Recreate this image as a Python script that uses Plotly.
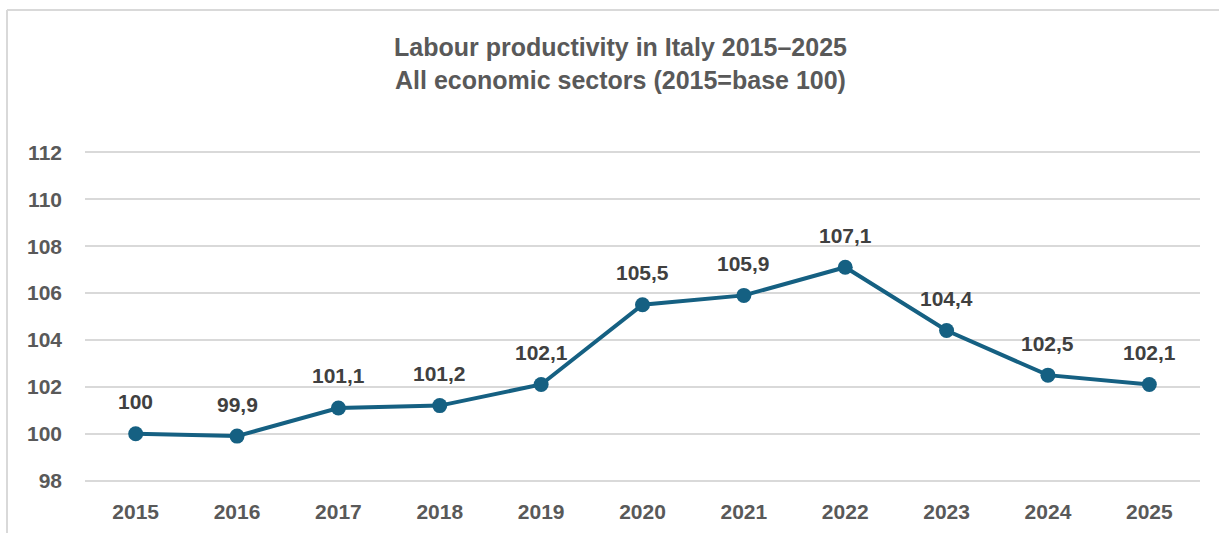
import plotly.graph_objects as go

years = ["2015", "2016", "2017", "2018", "2019", "2020", "2021", "2022", "2023", "2024", "2025"]
values = [100, 99.9, 101.1, 101.2, 102.1, 105.5, 105.9, 107.1, 104.4, 102.5, 102.1]
labels = ["100", "99,9", "101,1", "101,2", "102,1", "105,5", "105,9", "107,1", "104,4", "102,5", "102,1"]
y_ticks = [98, 100, 102, 104, 106, 108, 110, 112]
title_lines = ["Labour productivity in Italy 2015–2025", "All economic sectors (2015=base 100)"]

LINE = "#156082"
TXT = "#595959"
FONT = "Liberation Sans, Arial, sans-serif"

W, H = 1219, 533
L, R, T, B = 85, 19, 150, 50

fig = go.Figure()
fig.add_trace(go.Scatter(
    x=list(range(len(years))), y=values, mode="lines+markers",
    line=dict(color=LINE, width=4),
    marker=dict(color=LINE, size=15),
    hoverinfo="skip", showlegend=False,
))

for i, (y, t) in enumerate(zip(values, labels)):
    fig.add_annotation(x=i, y=y, xref="x", yref="y", text=t, showarrow=False, yshift=32,
                       font=dict(family=FONT, size=21, color="#404040", weight="bold"))

pw = W - L - R
ph = H - T - B


def py(ypix):
    return (H - B - ypix) / ph


def px(xpix):
    return (xpix - L) / pw


for line_text, ypix in zip(title_lines, [47, 80]):
    fig.add_annotation(x=px(620), y=py(ypix), xref="paper", yref="paper", text=line_text,
                       showarrow=False, xanchor="center", yanchor="middle",
                       font=dict(family=FONT, size=25, color=TXT, weight="bold"))

fig.add_shape(type="line", xref="paper", yref="paper", x0=px(7), x1=px(W + 5), y0=py(10), y1=py(10),
              line=dict(color="#d9d9d9", width=2))
fig.add_shape(type="line", xref="paper", yref="paper", x0=px(7), x1=px(7), y0=py(10), y1=py(H + 5),
              line=dict(color="#d9d9d9", width=2))

fig.update_layout(
    width=W, height=H,
    margin=dict(l=L, r=R, t=T, b=B),
    paper_bgcolor="white", plot_bgcolor="white",
    xaxis=dict(
        range=[-0.5, 10.5], tickvals=list(range(len(years))), ticktext=years,
        showgrid=False, showline=False, zeroline=False, automargin=False,
        ticks="", ticklabelstandoff=14,
        tickfont=dict(family=FONT, size=21, color=TXT, weight="bold"),
        fixedrange=True,
    ),
    yaxis=dict(
        range=[97.9, 112.1], tickvals=y_ticks, ticktext=[str(v) for v in y_ticks],
        showgrid=True, gridcolor="#d9d9d9", gridwidth=1.5, zeroline=False, showline=False,
        automargin=False, ticks="", ticklabelstandoff=22,
        tickfont=dict(family=FONT, size=21, color=TXT, weight="bold"),
        fixedrange=True,
    ),
)

fig.write_html("out.html", config={"displayModeBar": False})
